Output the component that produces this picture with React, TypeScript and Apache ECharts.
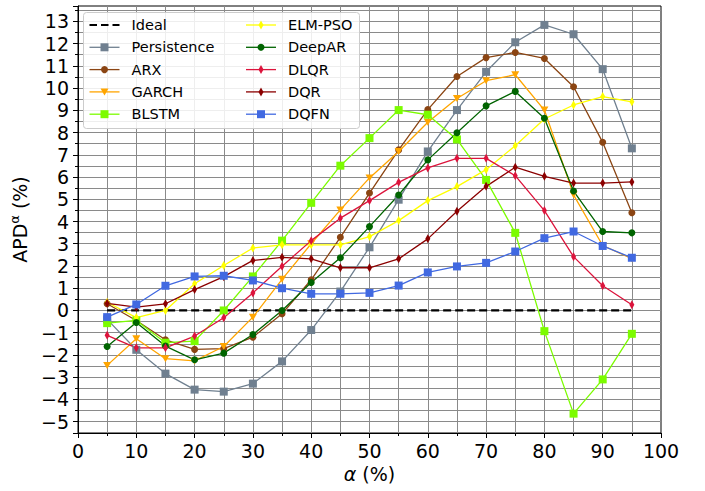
import React, { useEffect, useRef } from 'react';
import * as echarts from 'echarts';

const FONT = '"DejaVu Sans", sans-serif';

const alphas = [5, 10, 15, 20, 25, 30, 35, 40, 45, 50, 55, 60, 65, 70, 75, 80, 85, 90, 95];
const ideal = [0, 0, 0, 0, 0, 0, 0, 0, 0, 0, 0, 0, 0, 0, 0, 0, 0, 0, 0];
const persistence = [-0.4, -1.77, -2.84, -3.56, -3.65, -3.29, -2.29, -0.88, 0.85, 2.84, 4.98, 7.15, 9.01, 10.73, 12.06, 12.84, 12.42, 10.85, 7.29];
const arx = [0.3, -0.45, -1.32, -1.75, -1.72, -1.2, -0.15, 1.38, 3.29, 5.28, 7.22, 9.03, 10.52, 11.37, 11.6, 11.33, 10.06, 7.56, 4.39];
const garch = [-2.47, -1.27, -2.17, -2.27, -1.62, -0.3, 1.4, 3.0, 4.52, 5.96, 7.15, 8.46, 9.53, 10.33, 10.6, 9.01, 5.2, 2.92, 2.33];
const blstm = [-0.57, -0.45, -1.45, -1.38, 0.0, 1.53, 3.14, 4.84, 6.51, 7.75, 9.01, 8.8, 7.69, 5.87, 3.49, -0.93, -4.64, -3.1, -1.05];
const elmPso = [0.37, -0.32, 0.0, 1.2, 2.02, 2.81, 2.95, 2.95, 2.95, 3.32, 4.04, 4.94, 5.57, 6.33, 7.41, 8.61, 9.24, 9.62, 9.38];
const deepAR = [-1.62, -0.54, -1.6, -2.22, -1.92, -1.08, 0.0, 1.26, 2.37, 3.77, 5.19, 6.77, 7.99, 9.2, 9.85, 8.64, 5.37, 3.55, 3.49];
const dlqr = [-1.12, -1.68, -1.68, -1.15, -0.33, 0.79, 1.99, 3.14, 4.15, 4.94, 5.76, 6.41, 6.84, 6.84, 6.06, 4.49, 2.42, 1.11, 0.26];
const dqr = [0.32, 0.15, 0.3, 0.94, 1.52, 2.25, 2.39, 2.32, 1.92, 1.92, 2.32, 3.22, 4.46, 5.58, 6.44, 6.03, 5.73, 5.73, 5.78];
const dqfn = [-0.3, 0.27, 1.11, 1.53, 1.56, 1.35, 1.0, 0.75, 0.75, 0.79, 1.12, 1.71, 1.98, 2.14, 2.65, 3.25, 3.55, 2.9, 2.37];

const xTicks = [0, 10, 20, 30, 40, 50, 60, 70, 80, 90, 100];
const yMin = -5.51;
const yMax = 13.69;

type Meta = { name: string; values: number[]; color: string; marker: string };

const seriesMeta: Meta[] = [
  { name: 'Ideal', values: ideal, color: '#000000', marker: 'none' },
  { name: 'Persistence', values: persistence, color: '#708090', marker: 'square' },
  { name: 'ARX', values: arx, color: '#8B4513', marker: 'circle' },
  { name: 'GARCH', values: garch, color: '#FFA500', marker: 'tri' },
  { name: 'BLSTM', values: blstm, color: '#7CFC00', marker: 'square' },
  { name: 'ELM-PSO', values: elmPso, color: '#FFFF00', marker: 'thin' },
  { name: 'DeepAR', values: deepAR, color: '#006400', marker: 'circle' },
  { name: 'DLQR', values: dlqr, color: '#DC143C', marker: 'thin' },
  { name: 'DQR', values: dqr, color: '#8B0000', marker: 'thin' },
  { name: 'DQFN', values: dqfn, color: '#4169E1', marker: 'square' },
];

function symbolFor(m: string) {
  if (m === 'square') return { symbol: 'rect', symbolSize: 8, symbolRotate: 0 };
  if (m === 'circle') return { symbol: 'circle', symbolSize: 7, symbolRotate: 0 };
  if (m === 'tri') return { symbol: 'triangle', symbolSize: [8, 7], symbolRotate: 180 };
  if (m === 'thin') return { symbol: 'diamond', symbolSize: [5, 9], symbolRotate: 0 };
  return { symbol: 'none', symbolSize: 0, symbolRotate: 0 };
}

const LZ = 100;

function legendMarker(m: string, cx: number, cy: number, color: string): any {
  if (m === 'square') return { type: 'rect', z: LZ + 2, shape: { x: cx - 4, y: cy - 4, width: 8, height: 8 }, style: { fill: color } };
  if (m === 'circle') return { type: 'circle', z: LZ + 2, shape: { cx, cy, r: 3.5 }, style: { fill: color } };
  if (m === 'tri') return { type: 'polygon', z: LZ + 2, shape: { points: [[cx - 4, cy - 3.5], [cx + 4, cy - 3.5], [cx, cy + 3.5]] }, style: { fill: color } };
  if (m === 'thin') return { type: 'polygon', z: LZ + 2, shape: { points: [[cx, cy - 4.5], [cx + 2.5, cy], [cx, cy + 4.5], [cx - 2.5, cy]] }, style: { fill: color } };
  return null;
}

function buildLegend(): any[] {
  const els: any[] = [
    {
      type: 'rect',
      z: LZ,
      shape: { x: 83.5, y: 12.5, width: 276, height: 116, r: 3 },
      style: { fill: 'rgba(255,255,255,0.85)', stroke: '#cccccc', lineWidth: 1 },
    },
  ];
  const colX = [89.5, 246];
  const rowY0 = 25;
  const rowStep = 22.3;
  seriesMeta.forEach((s, i) => {
    const col = Math.floor(i / 5);
    const row = i % 5;
    const x0 = colX[col];
    const y = rowY0 + row * rowStep;
    const isIdeal = s.marker === 'none';
    els.push({
      type: 'line',
      z: LZ + 1,
      shape: { x1: x0, y1: y, x2: x0 + 30, y2: y },
      style: isIdeal
        ? { stroke: '#000', lineWidth: 2, lineDash: [7.5, 4] }
        : { stroke: s.color, lineWidth: 1.3 },
    });
    const mk = legendMarker(s.marker, x0 + 15, y, s.color);
    if (mk) els.push(mk);
    els.push({
      type: 'text',
      z: LZ + 2,
      style: {
        text: s.name,
        x: x0 + 42,
        y,
        fill: '#000',
        font: '14.5px ' + FONT,
        align: 'left',
        verticalAlign: 'middle',
      },
    });
  });
  return els;
}

function fmtY(v: number) {
  const r = Math.round(v);
  if (Math.abs(v - r) > 1e-6) return '';
  return r < 0 ? '\u2212' + Math.abs(r) : String(r);
}

export default function App() {
  const ref = useRef<HTMLDivElement>(null);
  useEffect(() => {
    if (!ref.current) return;
    const chart = echarts.init(ref.current, undefined, { renderer: 'svg' });
    const series = seriesMeta.map((s) => {
      const sym = symbolFor(s.marker);
      const isIdeal = s.marker === 'none';
      return {
        name: s.name,
        type: 'line',
        data: alphas.map((a, i) => [a, s.values[i]]),
        symbol: sym.symbol,
        symbolSize: sym.symbolSize,
        symbolRotate: sym.symbolRotate,
        showSymbol: !isIdeal,
        lineStyle: isIdeal
          ? { color: '#000', width: 2.2, type: [8, 4] }
          : { color: s.color, width: 1.3 },
        itemStyle: { color: s.color },
        emphasis: { disabled: true },
        silent: true,
      };
    });
    chart.setOption({
      animation: false,
      grid: {
        left: 77,
        right: 44,
        top: 6,
        bottom: 58,
        show: true,
        borderColor: '#000',
        borderWidth: 1,
        backgroundColor: 'transparent',
      },
      xAxis: {
        type: 'value',
        min: xTicks[0],
        max: xTicks[xTicks.length - 1],
        interval: 10,
        name: '{i|α} (%)',
        nameLocation: 'middle',
        nameGap: 15,
        nameTextStyle: {
          fontSize: 19,
          fontFamily: FONT,
          color: '#000',
          rich: { i: { fontSize: 19, fontFamily: FONT, fontStyle: 'italic', color: '#000' } },
        },
        axisLine: { onZero: false, lineStyle: { color: '#000', width: 1 } },
        axisTick: { length: 5, lineStyle: { color: '#000' } },
        minorTick: { show: true, splitNumber: 2, length: 3, lineStyle: { color: '#000' } },
        axisLabel: { fontSize: 19, fontFamily: FONT, color: '#000', margin: 8 },
        splitLine: { show: true, showMinLine: false, showMaxLine: false, lineStyle: { color: '#8a8a8a', width: 1 } },
        minorSplitLine: { show: true, lineStyle: { color: '#8a8a8a', width: 1 } },
      },
      yAxis: {
        type: 'value',
        min: yMin,
        max: yMax,
        minInterval: 1,
        maxInterval: 1,
        splitNumber: 19,
        name: '{t|APD}{s|α}{t| (%)}',
        nameLocation: 'middle',
        nameRotate: 90,
        nameGap: 46,
        nameTextStyle: {
          fontSize: 19,
          fontFamily: FONT,
          color: '#000',
          rich: {
            t: { fontSize: 19, fontFamily: FONT, color: '#000', lineHeight: 24 },
            s: { fontSize: 13, fontFamily: FONT, color: '#000', lineHeight: 13, verticalAlign: 'top' },
          },
        },
        axisLine: { show: true, onZero: false, lineStyle: { color: '#000', width: 1 } },
        axisTick: { length: 5, lineStyle: { color: '#000' } },
        minorTick: { show: true, splitNumber: 2, length: 3, lineStyle: { color: '#000' } },
        axisLabel: {
          fontSize: 19,
          fontFamily: FONT,
          color: '#000',
          margin: 9,
          showMinLabel: false,
          showMaxLabel: false,
          formatter: fmtY,
        },
        splitLine: { show: true, showMinLine: false, showMaxLine: false, lineStyle: { color: '#8a8a8a', width: 1 } },
        minorSplitLine: { show: true, lineStyle: { color: '#8a8a8a', width: 1 } },
      },
      graphic: buildLegend(),
      series,
    });
    return () => chart.dispose();
  }, []);
  return (
    <div
      ref={ref}
      style={{ position: 'fixed', left: 0, top: 0, width: 705, height: 491, background: '#fff' }}
    />
  );
}
